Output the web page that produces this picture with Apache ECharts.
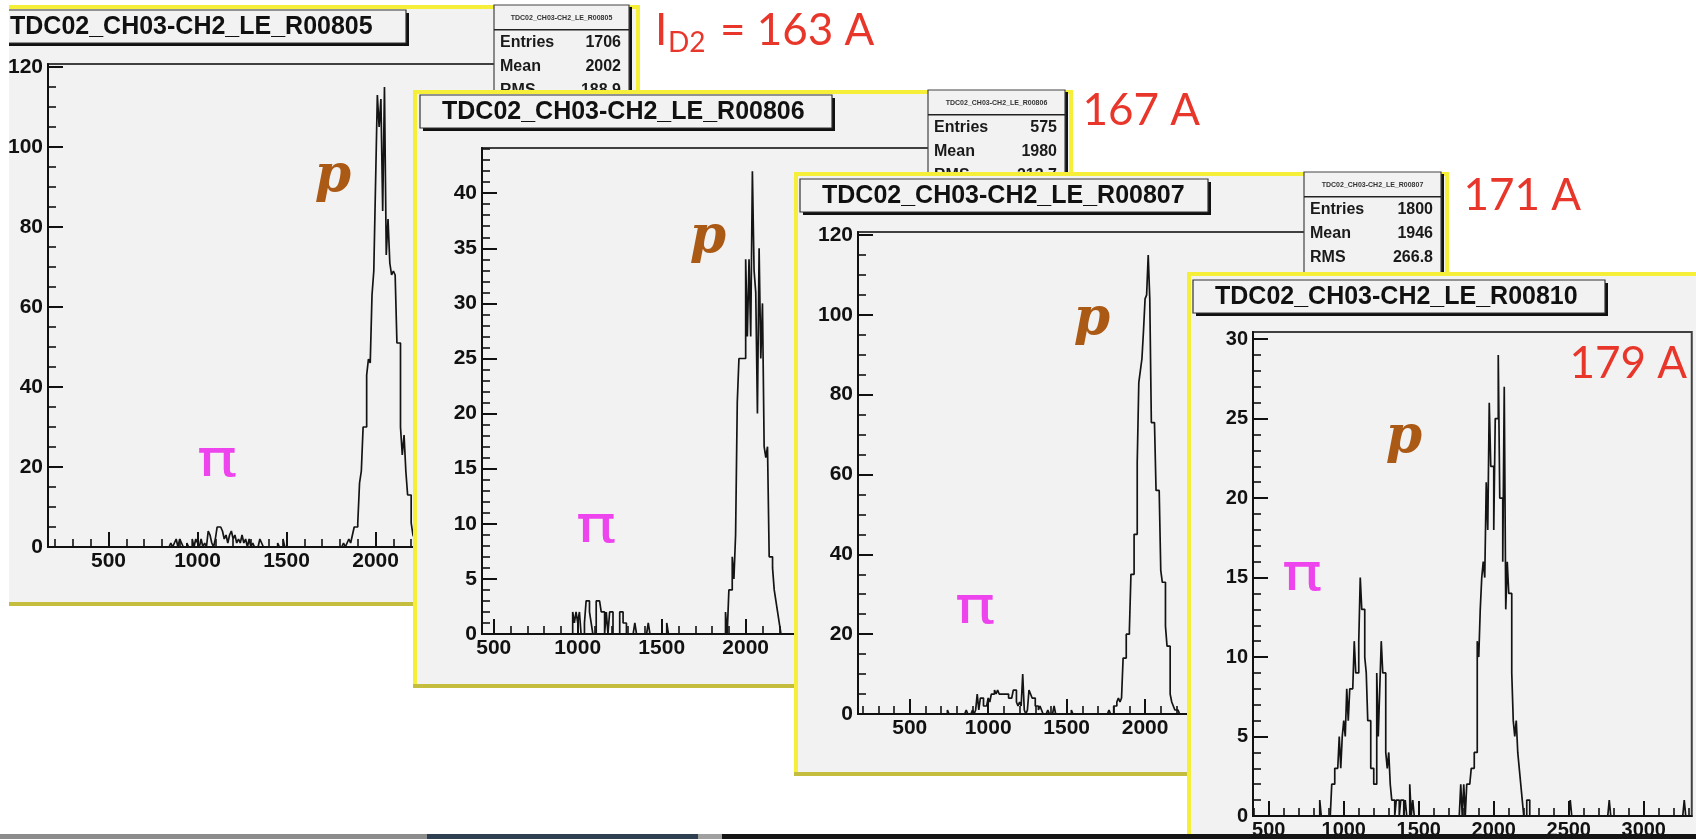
<!DOCTYPE html>
<html>
<head>
<meta charset="utf-8">
<title>TDC02_CH03-CH2_LE runs 805-810</title>
<script src="https://cdn.jsdelivr.net/npm/echarts@6/dist/echarts.min.js"></script>
<style>
  html, body { margin: 0; padding: 0; background: #ffffff; }
  #chart { width: 1696px; height: 839px; }
</style>
</head>
<body>
<div id="chart"></div>
<script>
// ---------------- histogram contents (TDC channel, 10-channel bins) ----------------
const BIN_WIDTH = 10;

// run 805, I_D2 = 163 A
const r805PionStart = 840;
const r805PionCounts = [0,1,0,1,2,0,2,1,0,0,1,0,0,2,0,2,1,0,2,0,1,0,4,3,1,0,2,5,5,5,4,2,3,1,3,4,2,3,1,2,1,3,1,2,0,2,0,1,0,0,0,2,1];
const r805ProtonStart = 1820;
const r805ProtonCounts = [1,0,1,2,1,3,5,5,6,16,19,30,30,43,47,46,63,69,91,113,105,112,84,115,73,82,71,68,69,68,51,51,30,23,28,19,13,13,6,3,2,1,1];
const r805Single = [[1450,1],[1480,2]];

// run 806, 167 A
const r806PionStart = 970;
const r806PionCounts = [2,1,2,1,2,0,0,1,3,3,2,1,0,0,3,3,3,2,2,0,2,0,2,2,0,0,0,0,2,2,1,1];
const r806ProtonStart = 1880;
const r806ProtonCounts = [2,0,4,4,7,5,9,21,25,25,25,25,34,27,34,27,42,33,31,20,35,25,30,17,16,17,7,7,6,4,3,2,1];
const r806Single = [[1340,1],[1420,1],[1530,1]];

// run 807, 171 A
const r807PionStart = 900;
const r807PionCounts = [1,0,1,5,1,4,4,2,2,2,4,3,5,5,6,5,6,5,5,5,5,5,5,4,4,4,6,6,3,2,3,2,10,1,0,1,6,5,4,4,2,2,1,2,1];
const r807ProtonStart = 1800;
const r807ProtonCounts = [2,2,3,4,3,4,14,14,20,20,21,35,35,45,45,63,83,86,89,96,104,105,115,104,73,73,73,56,56,56,36,33,33,22,17,17,5,3,2,1,1,1];
const r807Single = [[740,1],[860,1],[1380,1],[1420,2],[1530,1],[1770,1]];

// run 810, 179 A
const r810PionStart = 840;
const r810PionCounts = [1,0,0,0,0,0,0,0,2,2,3,3,3,5,3,5,6,5,8,6,8,8,8,11,9,9,11,15,13,13,10,9,6,6,3,3,2,2,9,5,8,11,9,9,4,3,4,2,1,1,0,1,1,0,1,1,0,1,0,0,2,0,1];
const r810ProtonStart = 1780;
const r810ProtonCounts = [2,0,2,0,2,2,2,3,3,4,4,11,10,13,15,16,15,21,18,26,22,22,18,25,25,29,20,20,16,27,13,16,14,14,9,6,5,6,4,3,2,1,0,0,1,1];
const r810Single = [[2510,1],[2770,1],[3270,1]];

// axis tick labels
const xTickLabels = [500, 1000, 1500, 2000, 2500, 3000];
const yTickLabels120 = [0, 20, 40, 60, 80, 100, 120];
const yTickLabels40 = [0, 5, 10, 15, 20, 25, 30, 35, 40];
const yTickLabels30 = [0, 5, 10, 15, 20, 25, 30];

// histogram names and statistics boxes
const histNames = ['TDC02_CH03-CH2_LE_R00805', 'TDC02_CH03-CH2_LE_R00806', 'TDC02_CH03-CH2_LE_R00807', 'TDC02_CH03-CH2_LE_R00810'];
const statEntries = [1706, 575, 1800];
const statMeans = [2002, 1980, 1946];
const statRms = ['188.9', '213.7', '266.8'];

// dipole current of each run
const currentLabels = ['163 A', '167 A', '171 A', '179 A'];

// ---------------- helpers ----------------
function histogramPoints(segments, singles) {
  const bins = new Map();
  segments.forEach(([start, counts]) => {
    counts.forEach((c, i) => bins.set(Math.round(start / BIN_WIDTH) + i, c));
  });
  singles.forEach(([x, c]) => bins.set(Math.round(x / BIN_WIDTH), c));
  const keys = [...bins.keys()].sort((a, b) => a - b);
  const lo = keys[0], hi = keys[keys.length - 1];
  const pts = [[lo * BIN_WIDTH, 0]];
  for (let b = lo; b <= hi; b++) {
    const c = bins.get(b) || 0;
    pts.push([b * BIN_WIDTH, c], [(b + 1) * BIN_WIDTH, c]);
  }
  pts.push([(hi + 1) * BIN_WIDTH, 0]);
  return pts;
}

function minorValues(min, max, step, majors) {
  const out = [];
  for (let v = Math.ceil(min / step) * step; v < max; v += step) {
    if (v > min && majors.indexOf(v) < 0) out.push(v);
  }
  return out;
}

const FONT = '"Liberation Sans", Arial, Helvetica, sans-serif';
const PAD = '#f2f2f2';
const YELLOW = '#f6ef3a';
const OLIVE = '#c4bd3e';
const RED = '#e8362b';

// ---------------- panel layout ----------------
const panels = [
  {
    hist: histogramPoints([[r805PionStart, r805PionCounts], [r805ProtonStart, r805ProtonCounts]], r805Single),
    pad: { x: -20, y: 5, w: 660, h: 601 }, leftBorder: false,
    titleBox: { x: -12, y: 10, w: 418, h: 33 },
    stats: { x: 494, y: 7, w: 135 },
    grid: { left: 48, top: 64, width: 559, height: 483 },
    xMin: 160, xMax: 3300, yMax: 120.75, yTicks: yTickLabels120, yMinorStep: 5, fontSize: 21,
    pi: [217, 462], p: [333, 177]
  },
  {
    hist: histogramPoints([[r806PionStart, r806PionCounts], [r806ProtonStart, r806ProtonCounts]], r806Single),
    pad: { x: 413, y: 90, w: 660, h: 598 }, leftBorder: true,
    titleBox: { x: 420, y: 95, w: 412, h: 33 },
    stats: { x: 928, y: 92, w: 137 },
    grid: { left: 482, top: 148, width: 482, height: 486 },
    xMin: 430, xMax: 3300, yMax: 44.1, yTicks: yTickLabels40, yMinorStep: 1, fontSize: 21,
    pi: [596, 528], p: [708, 238]
  },
  {
    hist: histogramPoints([[r807PionStart, r807PionCounts], [r807ProtonStart, r807ProtonCounts]], r807Single),
    pad: { x: 794, y: 172, w: 655, h: 604 }, leftBorder: true,
    titleBox: { x: 800, y: 179, w: 408, h: 33 },
    stats: { x: 1304, y: 174, w: 137 },
    grid: { left: 858, top: 232, width: 491, height: 482 },
    xMin: 170, xMax: 3300, yMax: 120.75, yTicks: yTickLabels120, yMinorStep: 5, fontSize: 21,
    pi: [975, 609], p: [1092, 320]
  },
  {
    hist: histogramPoints([[r810PionStart, r810PionCounts], [r810ProtonStart, r810ProtonCounts]], r810Single),
    pad: { x: 1187, y: 272, w: 520, h: 580 }, leftBorder: true,
    titleBox: { x: 1193, y: 280, w: 412, h: 33 },
    stats: null,
    grid: { left: 1253, top: 332, width: 438.75, height: 484 },
    xMin: 395, xMax: 3320, yMax: 30.45, yTicks: yTickLabels30, yMinorStep: 1, fontSize: 20,
    pi: [1302, 576], p: [1404, 438]
  }
];

// ---------------- build option ----------------
const grids = [], xAxes = [], yAxes = [], series = [], elements = [];

function rect(zl, z, x, y, w, h, style) {
  return { type: 'rect', zlevel: zl, z: z, silent: true, shape: { x: x, y: y, width: w, height: h }, style: style };
}
function text(zl, z, x, y, str, style, extra) {
  return Object.assign({ type: 'text', zlevel: zl, z: z, silent: true, x: x, y: y,
    style: Object.assign({ text: str }, style) }, extra || {});
}
const plainNumber = (v) => String(v);

panels.forEach((pn, k) => {
  const zl = k;
  // pad with yellow frame and darker bottom edge
  const P = pn.pad;
  elements.push(rect(zl, 1, P.x, P.y, P.w, P.h, { fill: PAD }));
  elements.push(rect(zl, 2, P.x, P.y, P.w, 4, { fill: YELLOW }));
  elements.push(rect(zl, 2, P.x + P.w - 4, P.y, 4, P.h, { fill: YELLOW }));
  if (pn.leftBorder) elements.push(rect(zl, 2, P.x, P.y, 4, P.h, { fill: YELLOW }));
  elements.push(rect(zl, 2, P.x, P.y + P.h - 4, P.w, 4, { fill: OLIVE }));

  // title box with drop shadow
  const T = pn.titleBox;
  elements.push(rect(zl, 30, T.x + 3, T.y + 3, T.w, T.h, { fill: '#111' }));
  elements.push(rect(zl, 31, T.x, T.y, T.w, T.h, { fill: PAD, stroke: '#333', lineWidth: 1.2 }));
  elements.push(text(zl, 32, T.x + 22, T.y + T.h / 2 + 1, histNames[k], {
    fill: '#111', fontSize: 25, fontWeight: 'bold', fontFamily: FONT,
    textAlign: 'left', textVerticalAlign: 'middle'
  }));

  // statistics box
  if (pn.stats) {
    const S = pn.stats, H = 130;
    elements.push(rect(zl, 30, S.x + 3, S.y, S.w, H, { fill: '#111' }));
    elements.push(rect(zl, 31, S.x, S.y - 2, S.w, H, { fill: PAD, stroke: '#444', lineWidth: 1.2 }));
    elements.push(rect(zl, 32, S.x, S.y + 22, S.w, 1.6, { fill: '#222' }));
    elements.push(text(zl, 33, S.x + S.w / 2, S.y + 11, histNames[k], {
      fill: '#333', fontSize: 7, fontWeight: 'bold', fontFamily: FONT,
      textAlign: 'center', textVerticalAlign: 'middle'
    }));
    const rows = [['Entries', String(statEntries[k])], ['Mean', String(statMeans[k])], ['RMS', statRms[k]]];
    rows.forEach((r, i) => {
      const yy = S.y + 36 + i * 24;
      elements.push(text(zl, 33, S.x + 6, yy, r[0], {
        fill: '#1a1a1a', fontSize: 16, fontWeight: 'bold', fontFamily: FONT,
        textAlign: 'left', textVerticalAlign: 'middle'
      }));
      elements.push(text(zl, 33, S.x + S.w - 8, yy, r[1], {
        fill: '#1a1a1a', fontSize: 16, fontWeight: 'bold', fontFamily: FONT,
        textAlign: 'right', textVerticalAlign: 'middle'
      }));
    });
  }

  // particle tags
  elements.push(text(zl, 40, pn.pi[0], pn.pi[1], '\u03C0', {
    fill: '#ee44ee', fontSize: 52, fontFamily: '"DejaVu Sans", sans-serif',
    textAlign: 'center', textVerticalAlign: 'middle'
  }, { scaleX: 1.3 }));
  elements.push(text(zl, 40, pn.p[0], pn.p[1], 'p', {
    fill: '#ab5a16', fontSize: 52, fontStyle: 'italic', fontWeight: 'bold', fontFamily: '"DejaVu Serif", serif',
    textAlign: 'center', textVerticalAlign: 'middle'
  }));

  // frame and axes
  grids.push({
    left: pn.grid.left, top: pn.grid.top, width: pn.grid.width, height: pn.grid.height,
    show: true, backgroundColor: 'transparent', borderColor: '#404040', borderWidth: 2,
    containLabel: false, outerBoundsMode: 'none', zlevel: zl, z: 10
  });
  const labelStyle = { fontSize: pn.fontSize, fontWeight: 'bold', fontFamily: FONT, color: '#111', formatter: plainNumber };
  const xMinor = minorValues(pn.xMin, pn.xMax, 100, xTickLabels);
  const yMinor = minorValues(0, pn.yMax, pn.yMinorStep, pn.yTicks);
  xAxes.push({
    type: 'value', gridIndex: k, min: pn.xMin, max: pn.xMax, position: 'bottom', zlevel: zl, z: 12,
    axisLine: { show: true, onZero: false, lineStyle: { color: '#111', width: 2 } },
    axisTick: { show: true, inside: true, length: 15, customValues: xTickLabels, lineStyle: { color: '#111', width: 2 } },
    axisLabel: Object.assign({ show: true, margin: 4, customValues: xTickLabels }, labelStyle),
    splitLine: { show: false }
  });
  xAxes.push({
    type: 'value', gridIndex: k, min: pn.xMin, max: pn.xMax, position: 'bottom', zlevel: zl, z: 12,
    axisLine: { show: false, onZero: false },
    axisTick: { show: true, inside: true, length: 8, customValues: xMinor, lineStyle: { color: '#111', width: 1.6 } },
    axisLabel: { show: false }, splitLine: { show: false }
  });
  yAxes.push({
    type: 'value', gridIndex: k, min: 0, max: pn.yMax, position: 'left', zlevel: zl, z: 12,
    axisLine: { show: true, onZero: false, lineStyle: { color: '#111', width: 2 } },
    axisTick: { show: true, inside: true, length: 15, customValues: pn.yTicks, lineStyle: { color: '#111', width: 2 } },
    axisLabel: Object.assign({ show: true, margin: 5, customValues: pn.yTicks }, labelStyle),
    splitLine: { show: false }
  });
  yAxes.push({
    type: 'value', gridIndex: k, min: 0, max: pn.yMax, position: 'left', zlevel: zl, z: 12,
    axisLine: { show: false, onZero: false },
    axisTick: { show: true, inside: true, length: 8, customValues: yMinor, lineStyle: { color: '#111', width: 1.6 } },
    axisLabel: { show: false }, splitLine: { show: false }
  });
  series.push({
    type: 'line', name: histNames[k], xAxisIndex: 2 * k, yAxisIndex: 2 * k,
    data: pn.hist, showSymbol: false, symbol: 'none', clip: true, silent: true,
    lineStyle: { color: '#141414', width: 1.7 }, zlevel: zl, z: 14, animation: false
  });
});

// white margin along the left edge of the first pad
elements.push(rect(0, 100, 0, 0, 9, 612, { fill: '#ffffff' }));

// current labels
const redStyle = { fill: RED, fontFamily: 'Lato, "Open Sans", sans-serif', textVerticalAlign: 'middle' };
elements.push(text(0, 50, 655, 31, 'I', Object.assign({ fontSize: 44, textAlign: 'left' }, redStyle)));
elements.push(text(0, 50, 668, 43, 'D2', Object.assign({ fontSize: 28, textAlign: 'left' }, redStyle)));
elements.push(text(0, 50, 720, 31, '= ' + currentLabels[0], Object.assign({ fontSize: 44, textAlign: 'left' }, redStyle)));
elements.push(text(1, 50, 1200, 111, currentLabels[1], Object.assign({ fontSize: 44, textAlign: 'right' }, redStyle)));
elements.push(text(2, 50, 1581, 196, currentLabels[2], Object.assign({ fontSize: 44, textAlign: 'right' }, redStyle)));
elements.push(text(3, 50, 1687, 364, currentLabels[3], Object.assign({ fontSize: 44, textAlign: 'right' }, redStyle)));

// dark strip along the bottom edge
elements.push(rect(3, 100, 0, 834, 427, 5, { fill: '#8c8c8c' }));
elements.push(rect(3, 100, 427, 834, 271, 5, { fill: '#2e3f52' }));
elements.push(rect(3, 100, 698, 834, 24, 5, { fill: '#a0a0a0' }));
elements.push(rect(3, 100, 722, 834, 974, 5, { fill: '#141414' }));

const option = {
  backgroundColor: '#ffffff',
  animation: false,
  grid: grids,
  xAxis: xAxes,
  yAxis: yAxes,
  series: series,
  graphic: { elements: elements }
};

const chart = echarts.init(document.getElementById('chart'), null, { renderer: 'canvas', width: 1696, height: 839 });
chart.setOption(option);
</script>
</body>
</html>
